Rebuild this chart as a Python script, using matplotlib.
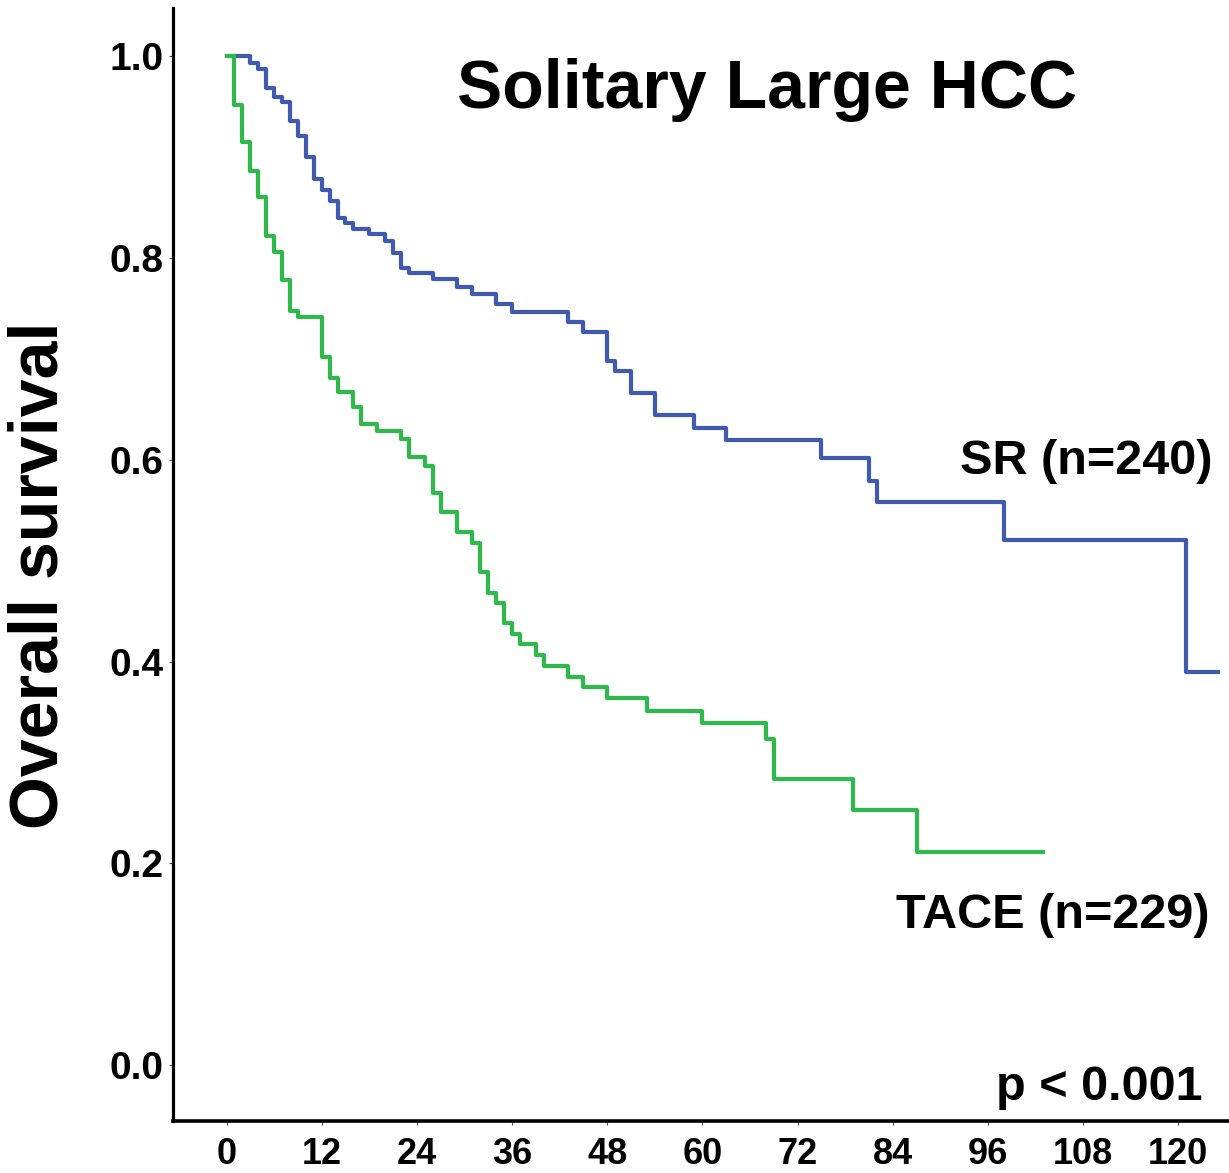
import matplotlib
matplotlib.use("Agg")
import matplotlib.pyplot as plt

plt.rcParams['font.family'] = ['Liberation Sans', 'DejaVu Sans']
plt.rcParams['font.weight'] = 'bold'

# Kaplan-Meier steps (months, survival)
sr_months = [0, 3, 4, 5, 6, 7, 8, 9, 10, 11, 12, 13, 14, 15, 16, 18, 20, 21, 22, 23,
             26, 29, 31, 34, 36, 43, 45, 48, 49, 51, 54, 59, 63, 75, 81, 82, 98, 121, 125]
sr_surv = [1.0, 0.993, 0.988, 0.969, 0.960, 0.955, 0.936, 0.921, 0.900, 0.878, 0.868,
           0.857, 0.840, 0.835, 0.829, 0.824, 0.817, 0.805, 0.790, 0.785, 0.779, 0.771,
           0.764, 0.755, 0.747, 0.737, 0.727, 0.698, 0.688, 0.666, 0.644, 0.632, 0.620,
           0.602, 0.579, 0.558, 0.521, 0.390, 0.390]

tace_months = [0, 1, 2, 3, 4, 5, 6, 7, 8, 9, 12, 13, 14, 16, 17, 19, 22, 23, 25, 26, 27,
               29, 31, 32, 33, 34, 35, 36, 37, 39, 40, 43, 45, 48, 53, 60, 68, 69, 79, 87, 103]
tace_surv = [1.0, 0.952, 0.915, 0.886, 0.861, 0.822, 0.806, 0.778, 0.748, 0.742, 0.702,
             0.681, 0.667, 0.652, 0.636, 0.629, 0.621, 0.603, 0.594, 0.567, 0.548, 0.528,
             0.518, 0.489, 0.468, 0.458, 0.438, 0.427, 0.417, 0.407, 0.396, 0.385, 0.375,
             0.364, 0.351, 0.339, 0.323, 0.284, 0.253, 0.211, 0.211]

x_ticks = [0, 12, 24, 36, 48, 60, 72, 84, 96, 108, 120]
y_ticks = [0.0, 0.2, 0.4, 0.6, 0.8, 1.0]

W, H = 1229, 1173
fig = plt.figure(figsize=(W / 100, H / 100), dpi=100)
ax = fig.add_axes([173 / W, 1 - 1120.7 / H, 1056 / W, 1112.7 / H])

ax.step(sr_months, sr_surv, where='post', color='#3f5aae', lw=3)
ax.step(tace_months, tace_surv, where='post', color='#30b94b', lw=3)

ax.set_xlim(-6.75, 126.4)
ax.set_ylim(-0.0552, 1.048)
ax.set_xticks(x_ticks)
ax.set_yticks(y_ticks)
ax.set_xticklabels([str(t) for t in x_ticks], fontsize=26, fontweight='bold')
ax.set_yticklabels(['%.1f' % t for t in y_ticks], fontsize=28, fontweight='bold')
ax.tick_params(axis='both', direction='out', length=3, width=0.8, color='#555555')
ax.tick_params(axis='x', pad=9)
ax.tick_params(axis='y', pad=4)

for side in ['top', 'right']:
    ax.spines[side].set_visible(False)
ax.spines['left'].set_linewidth(2.3)
ax.spines['bottom'].set_linewidth(2.6)

fig.text(40 / W, 1 - 575 / H, 'Overall survival', rotation=90, fontsize=49,
         fontweight='bold', ha='center', va='center')
fig.text(767 / W, 1 - 90 / H, 'Solitary Large HCC', fontsize=49,
         fontweight='bold', ha='center', va='center')
fig.text(1213 / W, 1 - 462 / H, 'SR (n=240)', fontsize=35,
         fontweight='bold', ha='right', va='center')
fig.text(1210 / W, 1 - 915 / H, 'TACE (n=229)', fontsize=35,
         fontweight='bold', ha='right', va='center')
fig.text(1203 / W, 1 - 1087 / H, 'p < 0.001', fontsize=35,
         fontweight='bold', ha='right', va='center')

fig.savefig('out.png', dpi=100)
